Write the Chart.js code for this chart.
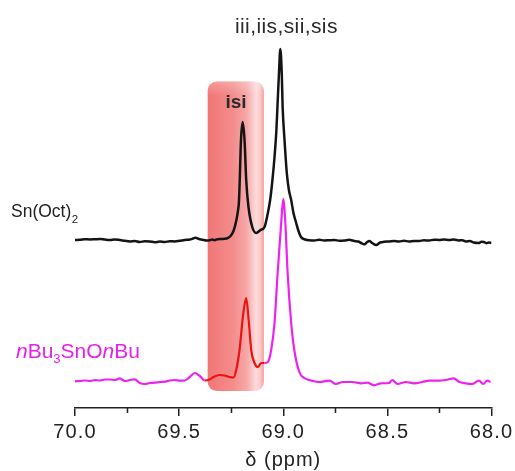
<!DOCTYPE html>
<html><head><meta charset="utf-8">
<script src="https://cdn.jsdelivr.net/npm/chart.js@4.4.0/dist/chart.umd.min.js"></script>
<style>html,body{margin:0;padding:0;background:#fff;}canvas{display:block;}</style>
</head><body>
<canvas id="c" width="515" height="471"></canvas>
<script>
// ---- data ----
const xTickValues = [70.0, 69.5, 69.0, 68.5, 68.0];
const minorTickValues = [69.75, 69.25, 68.75, 68.25];

const snOctPpm = [70.000,69.976,69.952,69.928,69.904,69.880,69.856,69.832,69.809,69.785,69.761,69.737,69.713,69.689,69.665,69.641,69.617,69.593,69.569,69.545,69.521,69.497,69.473,69.449,69.433,69.421,69.405,69.387,69.370,69.354,69.340,69.330,69.316,69.296,69.272,69.253,69.239,69.225,69.217,69.213,69.209,69.203,69.195,69.186,69.178,69.167,69.149,69.130,69.109,69.090,69.076,69.063,69.052,69.042,69.033,69.028,69.021,69.014,69.007,69.003,68.994,68.983,68.973,68.962,68.951,68.938,68.927,68.915,68.894,68.875,68.851,68.827,68.803,68.779,68.755,68.731,68.707,68.683,68.659,68.640,68.626,68.611,68.597,68.587,68.573,68.554,68.535,68.516,68.492,68.468,68.444,68.420,68.396,68.372,68.348,68.324,68.300,68.276,68.252,68.228,68.204,68.181,68.157,68.140,68.123,68.104,68.085,68.061,68.049,68.037,68.025,68.013,68.000];
const snOctIntensity = [0,0.3,0.8,0.5,0.7,1,0.4,0,0.6,0,-0.8,-1.5,-1,-2,-1.2,-1.5,-2.2,-1.6,-2,-1.2,-1.5,-0.8,0,0.5,1.5,2.3,1,0.3,-0.5,-0.3,0.5,-0.2,0.8,1,1.5,4,9,20,30,38,60,100,118,100,60,33,13,7,10,13,25,40,60,83,110,133,165,191,165,133,100,67,50,40,27,17,9,3,0.5,-0.3,-0.5,0.2,-0.5,-0.2,0,-0.8,-0.5,0.2,-1,-1.5,-3,-4.3,-2,-1,-3,-5,-2.5,-1.8,-1.5,-1,-1.5,-0.8,-1.5,-1,-1,-0.3,-0.5,0.3,0,0.5,0,0.4,-0.5,-0.2,-1.5,-1,-2.5,-3,-1.8,-2,-3.2,-2.5,-3];

const nBuPpm = [70.000,69.976,69.952,69.928,69.904,69.880,69.856,69.832,69.809,69.785,69.761,69.737,69.713,69.689,69.665,69.641,69.617,69.593,69.569,69.545,69.521,69.497,69.473,69.449,69.425,69.401,69.377,69.354,69.330,69.306,69.282,69.258,69.239,69.226,69.210,69.194,69.178,69.165,69.154,69.138,69.122,69.106,69.090,69.074,69.058,69.042,69.027,69.010,69.000,68.990,68.979,68.962,68.947,68.923,68.899,68.875,68.827,68.779,68.747,68.715,68.667,68.627,68.596,68.564,68.531,68.492,68.476,68.452,68.412,68.372,68.332,68.300,68.252,68.220,68.181,68.157,68.125,68.093,68.061,68.040,68.021,68.005];
const nBuIntensity = [-0.3,0,0.5,0,1,0.5,1.5,1.5,1,2.7,0,1,1.7,-2,-3,-2,-1.7,-1,-0.7,0.5,1,0.3,0.5,4,8,5,0.5,1.5,4.5,6,5.5,4,3.5,11,31,64,83,58,31,18,14,18,18,19,31,58,108,158,182,158,108,58,31,9,3,1,-1,0.3,-3,-1,-1,-2.3,-1.7,-4.3,-2.3,-2,1,-3,-1,-2.3,-1,0.3,0.3,1,2.7,-0.7,-2.3,-3,0.3,-3,0.3,-1];

const snOctOffset = 168;
const nBuOffset = 27;
const isiBand = [69.363, 69.093];      // ppm extent of highlighted isi region
const isiRed = [69.38, 69.085];        // part of nBu trace drawn in red

const build = (xs, ys, off) => xs.map((x, i) => ({x: x, y: ys[i] + off}));

const TXT = '#222222';
const FONT = "'Liberation Sans', Arial, Helvetica, sans-serif";

const overlay = {
  id: 'overlay',
  beforeDraw(chart) { chart.ctx.letterSpacing = '1px'; },
  beforeDatasetsDraw(chart) {
    const ctx = chart.ctx;
    ctx.letterSpacing = '0px';
    const xs = chart.scales.x, ys = chart.scales.y;
    const x0 = xs.getPixelForValue(isiBand[0]), x1 = xs.getPixelForValue(isiBand[1]);
    const y0 = ys.getPixelForValue(326.5), y1 = ys.getPixelForValue(17);
    ctx.save();
    const g = ctx.createLinearGradient(x0, 0, x1, 0);
    g.addColorStop(0, '#f17676');
    g.addColorStop(0.45, '#f48c8c');
    g.addColorStop(0.7, '#f7a8a8');
    g.addColorStop(0.86, '#fcdcdc');
    g.addColorStop(0.93, '#fbcccc');
    g.addColorStop(1, '#f59c9c');
    ctx.beginPath();
    ctx.roundRect(x0, y0, x1 - x0, y1 - y0, 9);
    ctx.fillStyle = g;
    ctx.fill();
    const gv = ctx.createLinearGradient(0, y0, 0, y0 + 14);
    gv.addColorStop(0, 'rgba(255,255,255,0.25)');
    gv.addColorStop(1, 'rgba(255,255,255,0)');
    ctx.fillStyle = gv;
    ctx.fill();
    ctx.restore();
  },
  afterDatasetsDraw(chart) { chart.ctx.letterSpacing = '1.2px'; },
  afterDraw(chart) {
    const ctx = chart.ctx;
    ctx.letterSpacing = '0px';
    const xs = chart.scales.x, ys = chart.scales.y;
    ctx.save();
    // minor ticks
    ctx.strokeStyle = TXT; ctx.lineWidth = 1.5;
    const yb = chart.chartArea.bottom;
    minorTickValues.forEach(v => {
      const px = Math.round(xs.getPixelForValue(v)) + 0.5;
      ctx.beginPath(); ctx.moveTo(px, yb); ctx.lineTo(px, yb + 5); ctx.stroke();
    });
    // peak labels
    ctx.fillStyle = '#2a2a2a';
    ctx.textAlign = 'center'; ctx.textBaseline = 'alphabetic';
    ctx.letterSpacing = '0.4px';
    ctx.font = '21px ' + FONT;
    ctx.fillText('iii,iis,sii,sis', xs.getPixelForValue(68.985), ys.getPixelForValue(375.3));
    ctx.letterSpacing = '0px';
    ctx.font = 'bold 19px ' + FONT;
    ctx.fillText('isi', xs.getPixelForValue(69.227), ys.getPixelForValue(300.3));
    // series labels
    ctx.textAlign = 'left';
    let x = 11, y = 217;
    ctx.fillStyle = TXT;
    ctx.font = '17.5px ' + FONT;
    ctx.fillText('Sn(Oct)', x, y);
    x += ctx.measureText('Sn(Oct)').width;
    ctx.font = '11.5px ' + FONT;
    ctx.fillText('2', x + 0.5, y + 6);

    x = 16; y = 358;
    ctx.fillStyle = '#ea1eea';
    const parts = [['italic 21px ', 'n', 0], ['21px ', 'Bu', 0], ['13px ', '3', 5], ['21px ', 'SnO', 0], ['italic 21px ', 'n', 0], ['21px ', 'Bu', 0]];
    parts.forEach(p => {
      ctx.font = p[0] + FONT;
      ctx.fillText(p[1], x, y + p[2]);
      x += ctx.measureText(p[1]).width;
    });
    ctx.restore();
  }
};

new Chart(document.getElementById('c'), {
  type: 'line',
  data: {
    datasets: [
      {
        label: 'nBu3SnOnBu',
        data: build(nBuPpm, nBuIntensity, nBuOffset),
        borderColor: '#ee22ee',
        borderWidth: 2.2,
        pointRadius: 0,
        cubicInterpolationMode: 'monotone',
        segment: {
          borderColor: c => (c.p0.parsed.x <= isiRed[0] && c.p1.parsed.x >= isiRed[1]) ? '#ee1111' : undefined
        }
      },
      {
        label: 'Sn(Oct)2',
        data: build(snOctPpm, snOctIntensity, snOctOffset),
        borderColor: '#141414',
        borderWidth: 2.5,
        pointRadius: 0,
        cubicInterpolationMode: 'monotone'
      }
    ]
  },
  options: {
    responsive: false,
    devicePixelRatio: 1,
    animation: false,
    events: [],
    layout: { padding: { left: 75, right: 22, top: 8, bottom: 1 } },
    plugins: { legend: { display: false }, tooltip: { enabled: false } },
    scales: {
      x: {
        type: 'linear',
        reverse: true,
        min: 68, max: 70,
        afterBuildTicks: s => { s.ticks = xTickValues.map(v => ({value: v})); },
        ticks: {
          z: 1,
          padding: 4,
          color: TXT,
          font: { family: FONT, size: 20 },
          callback: v => Number(v).toFixed(1),
          maxRotation: 0,
          autoSkip: false
        },
        grid: { display: true, drawOnChartArea: false, drawTicks: true, tickLength: 8, color: TXT, lineWidth: 1.5 },
        border: { display: true, color: TXT, width: 1.5 },
        title: {
          display: true,
          text: 'δ (ppm)',
          color: TXT,
          font: { family: FONT, size: 20, lineHeight: 1.0 },
          padding: { top: 2, bottom: 0 }
        }
      },
      y: { display: false, min: 0, max: 400 }
    }
  },
  plugins: [overlay]
});
</script>
</body></html>
